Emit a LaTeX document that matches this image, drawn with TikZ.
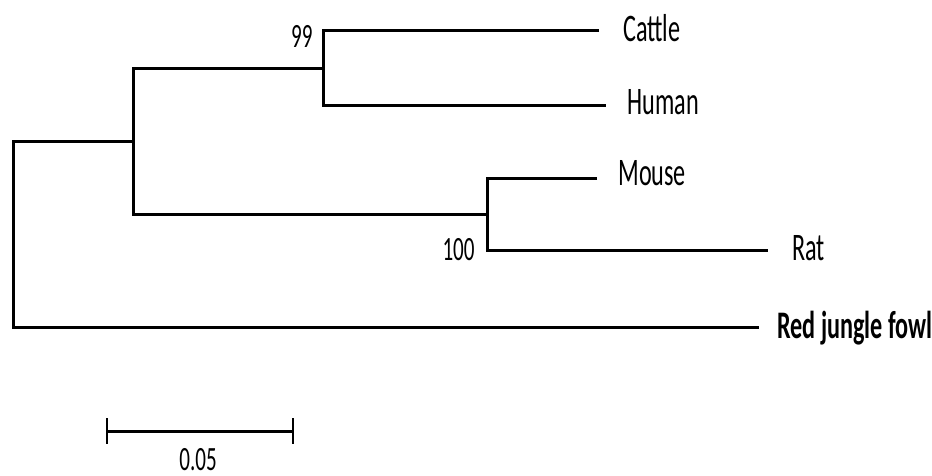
\documentclass[tikz,border=0pt]{standalone}
\usepackage{fontspec}
\setmainfont{Carlito}[FakeStretch=0.62]
\usepackage{tikz}

\begin{document}
\begin{tikzpicture}[x=0.5pt, y=-0.5pt, line width=1.4pt]
		\tikzstyle{branch}=[draw=black, line width=1.5pt]
		\tikzstyle{taxon}=[anchor=base west, inner sep=0pt, font=\fontsize{19.5}{23}\selectfont]
		\tikzstyle{boot}=[anchor=base east, inner sep=0pt, font=\fontsize{17}{20}\selectfont]
		\useasboundingbox (0,0) rectangle (932,476);

		% Draw internal nodes and tips
		\coordinate (root) at (13,234.7);
		\coordinate (mam) at (133,141.7);
		\coordinate (prim) at (323,68.3);
		\coordinate (rod) at (487,214.2);
		\coordinate (cattle) at (599,30.7);
		\coordinate (human) at (606,105.8);
		\coordinate (mouse) at (597,178.3);
		\coordinate (rat) at (768,250);
		\coordinate (fowl) at (759,327.7);

		% Draw branches
		\draw[branch] (mam) -| (root) |- (fowl);
		\draw[branch] (prim) -| (mam) |- (rod);
		\draw[branch] (cattle) -| (prim) |- (human);
		\draw[branch] (mouse) -| (rod) |- (rat);

		% Draw taxa
		\node[taxon] (tcattle) at (622,42) {Cattle};
		\node[taxon] (thuman) at (626,115) {Human};
		\node[taxon] (tmouse) at (617,185) {Mouse};
		\node[taxon] (trat) at (791,260) {Rat};
		\node[taxon, font=\fontsize{19.5}{23}\selectfont\bfseries] (tfowl) at (776,338) {Red jungle fowl};

		% Draw bootstrap values
		\node[boot] (b99) at (314,48) {99};
		\node[boot] (b100) at (476,260) {100};

		% Draw scale bar
		\coordinate (sbl) at (107,431);
		\coordinate (sbr) at (293,431);
		\draw[branch] (sbl) -- (sbr);
		\draw[branch, line width=1pt] (sbl) ++(0,-13) -- ++(0,26);
		\draw[branch, line width=1pt] (sbr) ++(0,-13) -- ++(0,26);
		\node[boot, anchor=base] (slabel) at (198,470) {0.05};

		\end{tikzpicture}
\end{document}
